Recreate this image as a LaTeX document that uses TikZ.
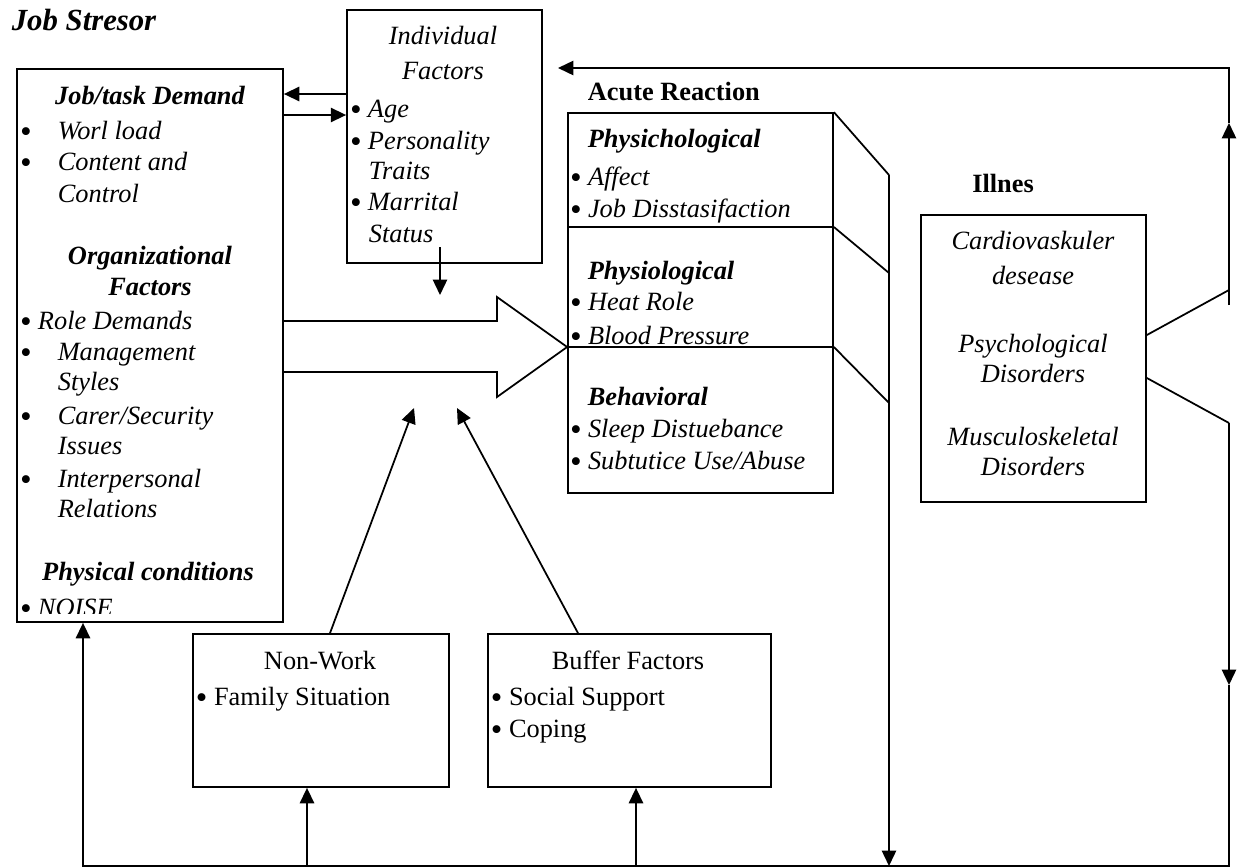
\documentclass[tikz,border=0pt]{standalone}
\usepackage{fontspec}
\setmainfont{Liberation Serif}
\usetikzlibrary{arrows.meta, positioning, fit}
\newcommand{\bul}{\raisebox{-1.6pt}[0pt][0pt]{\fontsize{15}{14}\selectfont\textbullet}}

\begin{document}
\begin{tikzpicture}[x=0.016cm, y=-0.016cm, line width=0.8pt,
  box/.style={draw, inner sep=0pt},
  it/.style={anchor=base west, inner sep=0pt, font=\fontsize{12}{14}\selectfont\itshape},
  bi/.style={anchor=base, inner sep=0pt, font=\fontsize{12}{14}\selectfont\bfseries\itshape},
  bf/.style={anchor=base west, inner sep=0pt, font=\fontsize{12}{14}\selectfont\bfseries},
  rm/.style={anchor=base west, inner sep=0pt, font=\fontsize{12}{14}\selectfont},
  arr/.style={-{Triangle[length=7pt,width=6.5pt]}}]
\useasboundingbox (0,0) rectangle (1241,867);

\node[anchor=base west, inner sep=0pt, font=\fontsize{14}{16}\selectfont\bfseries\itshape] (title) at (11,30) {Job Stresor};

% job stressors
\node[box, fit={(17,69) (283,622)}] (job) {};
\node[bi] (jd) at (150,104) {Job/task Demand};
\node[it] (j1) at (19,139) {\bul\hspace{12pt}Worl load};
\node[it] (j2) at (19,170) {\bul\hspace{12pt}Content and};
\node[it] (j3) at (57,202) {Control};
\node[bi] (of1) at (150,264) {Organizational};
\node[bi] (of2) at (150,295) {Factors};
\node[it] (j4) at (19,329) {\bul\ Role Demands};
\node[it] (j5) at (19,360) {\bul\hspace{12pt}Management};
\node[it] (j6) at (57,390) {Styles};
\node[it] (j7) at (19,424) {\bul\hspace{12pt}Carer/Security};
\node[it] (j8) at (57,454) {Issues};
\node[it] (j9) at (19,487) {\bul\hspace{12pt}Interpersonal};
\node[it] (j10) at (57,517) {Relations};
\node[bi] (pc) at (148,580) {Physical conditions};
\begin{scope}
\clip (17,69) rectangle (283,613);
\node[it] (j11) at (19,616) {\bul\ NOISE};
\end{scope}

% individual factors
\node[box, fit={(347,10) (542,263)}] (ind) {};
\node[it, anchor=base] (i1) at (443,44) {Individual};
\node[it, anchor=base] (i2) at (443,79) {Factors};
\node[it] (i3) at (349,117) {\bul\ Age};
\node[it] (i4) at (349,149) {\bul\ Personality};
\node[it] (i5) at (368,179) {Traits};
\node[it] (i6) at (349,210) {\bul\ Marrital};
\node[it] (i7) at (368,242) {Status};

% acute reaction
\node[bf] (ar) at (587,100) {Acute Reaction};
\node[box, fit={(568,113) (833,493)}] (acute) {};
\draw (acute.west |- 0,227) -- (acute.east |- 0,227);
\draw (acute.west |- 0,347) -- (acute.east |- 0,347);
\node[bi, anchor=base west] (a1) at (587,147) {Physichological};
\node[it] (a2) at (569,185) {\bul\ Affect};
\node[it] (a3) at (569,217) {\bul\ Job Disstasifaction};
\node[bi, anchor=base west] (a4) at (587,279) {Physiological};
\node[it] (a5) at (569,310) {\bul\ Heat Role};
\node[it] (a6) at (569,344) {\bul\ Blood Pressure};
\node[bi, anchor=base west] (a7) at (587,405) {Behavioral};
\node[it] (a8) at (569,437) {\bul\ Sleep Distuebance};
\node[it] (a9) at (569,469) {\bul\ Subtutice Use/Abuse};

% illness
\node[bf, anchor=base] (il) at (1003,192) {Illnes};
\node[box, fit={(921,215) (1146,502)}] (ill) {};
\node[it, anchor=base] (l1) at (1033,249) {Cardiovaskuler};
\node[it, anchor=base] (l2) at (1033,284) {desease};
\node[it, anchor=base] (l3) at (1033,352) {Psychological};
\node[it, anchor=base] (l4) at (1033,382) {Disorders};
\node[it, anchor=base] (l5) at (1033,445) {Musculoskeletal};
\node[it, anchor=base] (l6) at (1033,475) {Disorders};

% non-work and buffer
\node[box, fit={(193,634) (449,787)}] (nonwork) {};
\node[rm, anchor=base] (n1) at (320,669) {Non-Work};
\node[rm] (n2) at (195,705) {\bul\ Family Situation};
\node[box, fit={(488,634) (771,787)}] (buffer) {};
\node[rm, anchor=base] (b1) at (628,669) {Buffer Factors};
\node[rm] (b2) at (490,705) {\bul\ Social Support};
\node[rm] (b3) at (490,737) {\bul\ Coping};

% big arrow
\draw (job.east |- 0,321) -- (497,321) -- (497,297) -- (acute.west |- 0,347)
  -- (497,397) -- (497,372) -- (job.east |- 0,372);

\coordinate (indout) at (440,247);
\coordinate (indtip) at (440,295);
\coordinate (tipA) at (414,408);
\coordinate (tipB) at (457,408);
\coordinate (v1) at (889,175);
\coordinate (base) at (889,866);
\coordinate (up) at (1229,290);
\coordinate (upbase) at (1229,305);
\coordinate (midup) at (1229,123);
\coordinate (topR) at (1229,68);
\coordinate (backtip) at (558,68);
\coordinate (dn) at (1229,423);
\coordinate (middn) at (1229,685);
\coordinate (corner) at (1229,866);
\coordinate (leftc) at (83,866);

\draw[arr] (ind.west |- 0,94) -- (job.east |- 0,94);
\draw[arr] (job.east |- 0,115) -- (ind.west |- 0,115);
\draw[arr] (indout) -- (indtip);
\draw[arr] (nonwork.north -| 330,0) -- (tipA);
\draw[arr] (buffer.north -| 578,0) -- (tipB);

\draw (acute.north east) -- (v1);
\draw (acute.east |- 0,227) -- (889,273);
\draw (acute.east |- 0,347) -- (889,403);
\draw[arr] (v1) -- (base);

\draw (ill.east |- 0,335) -- (up);
\draw[arr] (upbase) -- (midup);
\draw[arr] (midup) -- (topR) -- (backtip);
\draw (ill.east |- 0,378) -- (dn);
\draw[arr] (dn) -- (middn);
\draw[arr] (middn) -- (corner) -- (leftc) -- (job.south -| leftc);
\draw[arr] (base -| 307,0) -- (nonwork.south -| 307,0);
\draw[arr] (base -| 636,0) -- (buffer.south -| 636,0);
\end{tikzpicture}
\end{document}
